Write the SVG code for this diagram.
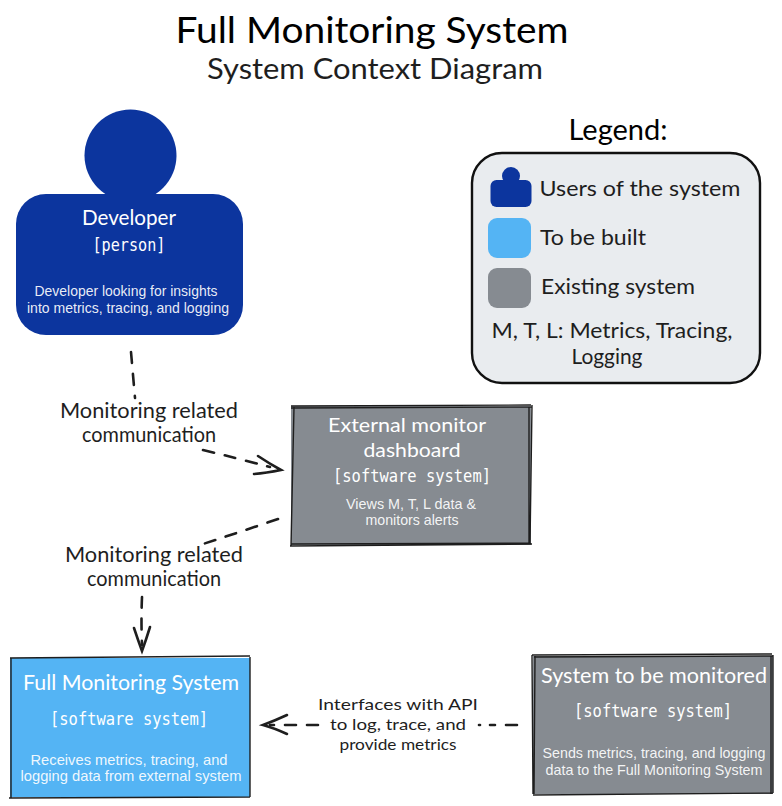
<svg xmlns="http://www.w3.org/2000/svg" width="782" height="806" viewBox="0 0 782 806">
<style>
text{text-anchor:middle}
.h{font-family:"Lato","Noto Sans",sans-serif;fill:#1e1e1e}
.w{font-family:"Lato","Noto Sans",sans-serif;fill:#fff}
.m{font-family:"DejaVu Sans Mono","Liberation Mono",monospace;font-size:17px;fill:#fff}
.d{font-family:"Liberation Sans",Arial,sans-serif;font-size:14.500px;fill:#fff;fill-opacity:.92}
.c{fill:none;stroke:#1e1e1e;stroke-width:2.600;stroke-linecap:round}
.dash{stroke-dasharray:11 11}
.b{fill:none;stroke:#1e1e1e;stroke-width:1.400}
.navy{fill:#0c359e}.sky{fill:#54b4f4}.gray{fill:#868b91}
</style>
<g id="title">
<text class="h" x="372" y="43" font-size="36" textLength="393" lengthAdjust="spacingAndGlyphs" style="fill:#000">Full Monitoring System</text>
<text class="h" x="375" y="79" font-size="28" textLength="336" lengthAdjust="spacingAndGlyphs">System Context Diagram</text>
</g>
<g id="connectors">
<path class="c dash" d="M131 352Q133 375 135 398"/>
<path class="c dash" d="M203 450Q240 459 270 467"/>
<path class="c" d="M258 456Q270 464 281 470Q266 473 254 474"/>
<path class="c dash" d="M278 519Q240 532 203 544"/>
<path class="c dash" d="M142 597Q141 620 142 645"/>
<path class="c" d="M134 628Q138 640 142 651Q146 640 150 627"/>
<path class="c dash" d="M517 725H490"/>
<path class="c" d="M479 725H480"/>
<path class="c dash" d="M318 725H270"/>
<path class="c" d="M287 715Q274 721 263 725Q274 728 287 734"/>
</g>
<g id="developer">
<circle class="navy" cx="130.500" cy="155.500" r="46"/>
<rect class="navy" x="16" y="194" width="227" height="141" rx="30"/>
<text class="w" x="129" y="225" font-size="22" textLength="94" lengthAdjust="spacingAndGlyphs">Developer</text>
<text class="m" x="129" y="251" textLength="73" lengthAdjust="spacingAndGlyphs">[person]</text>
<text class="d" x="126" y="296" textLength="183" lengthAdjust="spacingAndGlyphs">Developer looking for insights</text>
<text class="d" x="128" y="313" textLength="202" lengthAdjust="spacingAndGlyphs">into metrics, tracing, and logging</text>
</g>
<g id="legend">
<text class="h" x="618" y="140" font-size="28" textLength="99" lengthAdjust="spacingAndGlyphs" style="fill:#000">Legend:</text>
<rect x="472" y="153" width="288" height="230" rx="30" fill="#e9ecef" stroke="#111" stroke-width="2.400"/>
<circle class="navy" cx="511" cy="176" r="9"/>
<rect class="navy" x="490.500" y="180" width="41" height="27" rx="6"/>
<rect class="sky" x="488" y="218" width="43" height="40" rx="9"/>
<rect class="gray" x="488" y="268" width="43" height="40" rx="9"/>
<text class="h" x="640" y="196" font-size="22" textLength="201" lengthAdjust="spacingAndGlyphs">Users of the system</text>
<text class="h" x="593" y="245" font-size="22" textLength="106" lengthAdjust="spacingAndGlyphs">To be built</text>
<text class="h" x="618" y="294" font-size="22" textLength="154" lengthAdjust="spacingAndGlyphs">Existing system</text>
<text class="h" x="612" y="338" font-size="21" textLength="241" lengthAdjust="spacingAndGlyphs">M, T, L: Metrics, Tracing,</text>
<text class="h" x="607" y="364" font-size="21" textLength="71" lengthAdjust="spacingAndGlyphs">Logging</text>
</g>
<g id="dashboard">
<rect class="gray" x="291" y="406" width="240" height="139"/>
<path class="b" d="M291 406L531 405M291 408L532 407M532 405L530 545M529 407L529 544M532 544L290 546M291 544L530 543M291 546L294 407"/>
<text class="w" x="407" y="432" font-size="20" textLength="158" lengthAdjust="spacingAndGlyphs">External monitor</text>
<text class="w" x="412" y="457" font-size="20" textLength="97" lengthAdjust="spacingAndGlyphs">dashboard</text>
<text class="m" x="412" y="482" textLength="158" lengthAdjust="spacingAndGlyphs">[software system]</text>
<text class="d" x="411" y="509" textLength="130" lengthAdjust="spacingAndGlyphs">Views M, T, L data &amp;</text>
<text class="d" x="412" y="525" textLength="93" lengthAdjust="spacingAndGlyphs">monitors alerts</text>
</g>
<g id="labels">
<text class="h" x="149" y="418" font-size="21" textLength="178" lengthAdjust="spacingAndGlyphs">Monitoring related</text>
<text class="h" x="149" y="442" font-size="21" textLength="134" lengthAdjust="spacingAndGlyphs">communication</text>
<text class="h" x="154" y="562" font-size="21" textLength="178" lengthAdjust="spacingAndGlyphs">Monitoring related</text>
<text class="h" x="154" y="586" font-size="21" textLength="134" lengthAdjust="spacingAndGlyphs">communication</text>
<text class="h" x="398" y="710" font-size="16" textLength="160" lengthAdjust="spacingAndGlyphs">Interfaces with API</text>
<text class="h" x="398" y="730" font-size="16" textLength="136" lengthAdjust="spacingAndGlyphs">to log, trace, and</text>
<text class="h" x="398" y="750" font-size="16" textLength="117" lengthAdjust="spacingAndGlyphs">provide metrics</text>
</g>
<g id="full-monitoring-system">
<rect class="sky" x="10" y="658" width="240" height="139"/>
<path class="b" d="M10 658L250 656M250 657L250 797M250 797L9 798M11 798L11 658"/>
<text class="w" x="131" y="690" font-size="21" textLength="216" lengthAdjust="spacingAndGlyphs">Full Monitoring System</text>
<text class="m" x="129" y="725" textLength="158" lengthAdjust="spacingAndGlyphs">[software system]</text>
<text class="d" x="129" y="765" textLength="197" lengthAdjust="spacingAndGlyphs">Receives metrics, tracing, and</text>
<text class="d" x="131" y="781" textLength="221" lengthAdjust="spacingAndGlyphs">logging data from external system</text>
</g>
<g id="system-to-be-monitored">
<rect class="gray" x="533" y="656" width="240" height="138"/>
<path class="b" d="M532 655L772 654M534 657L773 656M773 655L773 793M771 656L771 794M773 793L533 795M534 794L535 656M532 655L533 794"/>
<text class="w" x="654" y="683" font-size="21" textLength="226" lengthAdjust="spacingAndGlyphs">System to be monitored</text>
<text class="m" x="653" y="717" textLength="158" lengthAdjust="spacingAndGlyphs">[software system]</text>
<text class="d" x="654" y="758" textLength="223" lengthAdjust="spacingAndGlyphs">Sends metrics, tracing, and logging</text>
<text class="d" x="654" y="775" textLength="217" lengthAdjust="spacingAndGlyphs">data to the Full Monitoring System</text>
</g>
</svg>
